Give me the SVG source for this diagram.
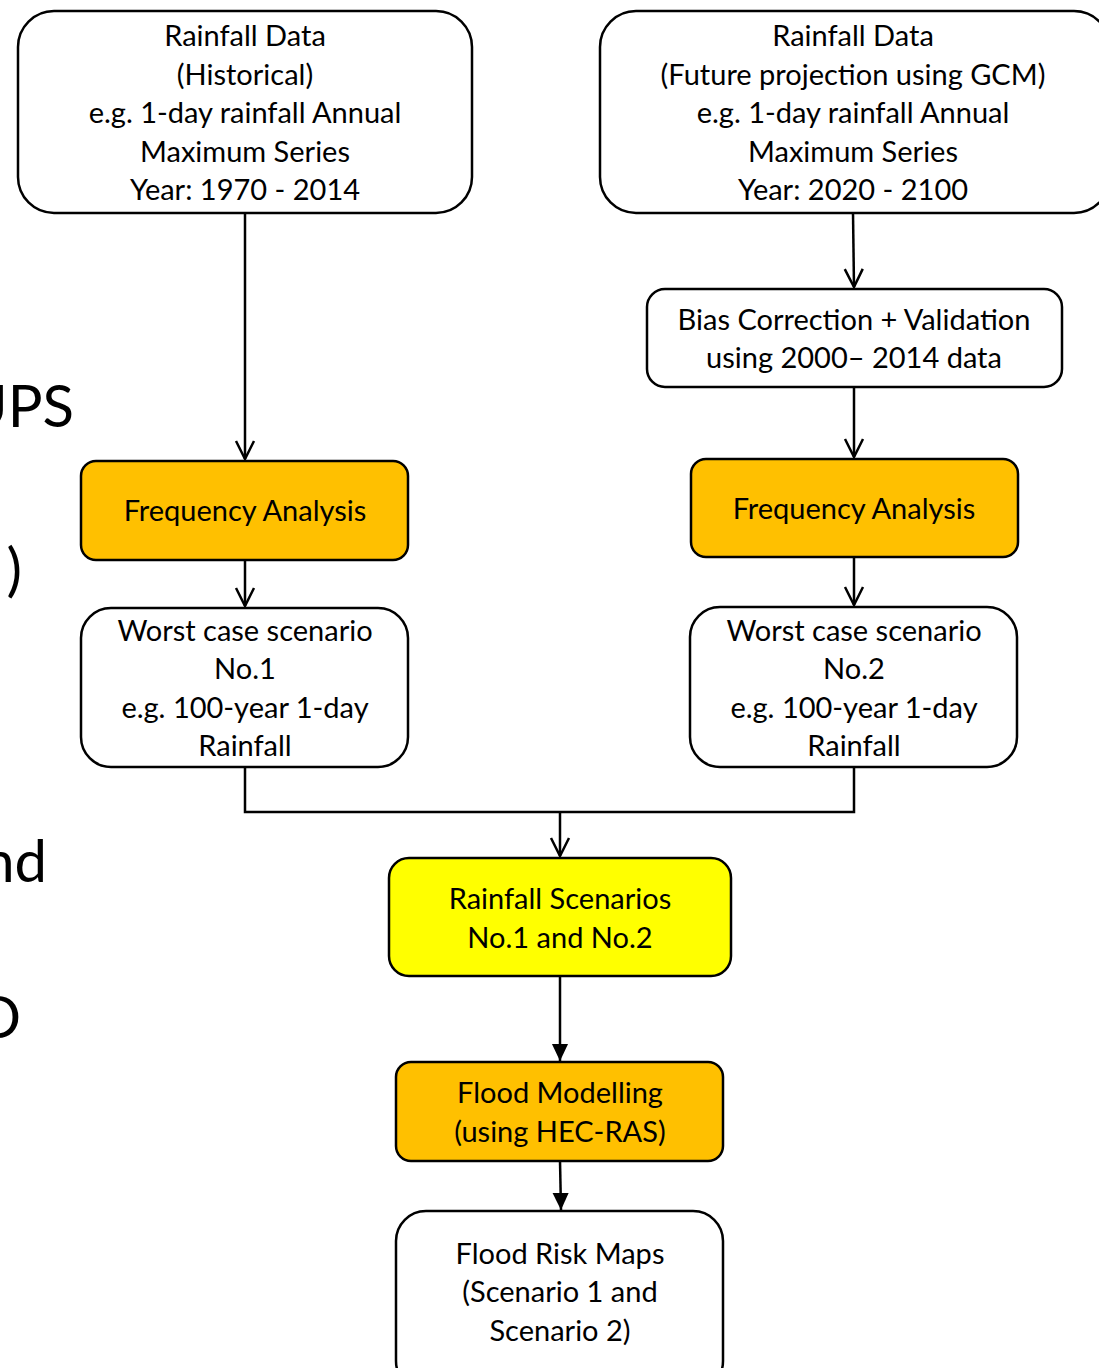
<svg xmlns="http://www.w3.org/2000/svg" width="1099" height="1368" viewBox="0 0 1099 1368">
<style>
.box{stroke:#000;stroke-width:2.5;}
.w{fill:#fff;}
.o{fill:#FFC000;}
.y{fill:#FFFF00;}
text{font-family:Lato,"Open Sans","Liberation Sans",sans-serif;font-size:29px;fill:#000;text-anchor:middle;}
.big{font-size:58px;text-anchor:end;}
.c{fill:none;stroke:#000;stroke-width:2.5;}
</style>
<defs>
<marker id="open" viewBox="0 0 22 22" refX="21" refY="11" markerWidth="22" markerHeight="22" markerUnits="userSpaceOnUse" orient="auto">
<path d="M3,2 L21,11 L3,20" fill="none" stroke="#000" stroke-width="2.5"/>
</marker>
<marker id="solid" viewBox="0 0 20 20" refX="19" refY="10" markerWidth="18" markerHeight="18" markerUnits="userSpaceOnUse" orient="auto">
<path d="M0,1 L19,10 L0,19 Z" fill="#000"/>
</marker>
</defs>
<rect width="1099" height="1368" fill="#fff"/>
<g id="fragments">
<text class="big" x="74" y="427">UPS</text>
<text class="big" x="22" y="590">)</text>
<text class="big" x="47" y="882">nd</text>
<text class="big" x="21" y="1038">D</text>
</g>
<g id="connectors">
<path class="c" d="M245,213 V459" marker-end="url(#open)"/>
<path class="c" d="M853,213 L854,287" marker-end="url(#open)"/>
<path class="c" d="M854,387 V457" marker-end="url(#open)"/>
<path class="c" d="M245,560 V606" marker-end="url(#open)"/>
<path class="c" d="M854,557 V605" marker-end="url(#open)"/>
<path class="c" d="M245,767 V812 H854 V767"/>
<path class="c" d="M560,812 V856" marker-end="url(#open)"/>
<path class="c" d="M560,976 V1061" marker-end="url(#solid)"/>
<path class="c" d="M560,1161 L561,1210" marker-end="url(#solid)"/>
</g>
<g id="n1">
<rect class="box w" x="18" y="11" width="454" height="202" rx="36"/>
<text x="245" y="46">Rainfall Data</text>
<text x="245" y="85">(Historical)</text>
<text x="245" y="123">e.g. 1-day rainfall Annual</text>
<text x="245" y="162">Maximum Series</text>
<text x="245" y="200">Year: 1970 - 2014</text>
</g>
<g id="n2">
<rect class="box w" x="600" y="11" width="510" height="202" rx="36"/>
<text x="853" y="46">Rainfall Data</text>
<text x="853" y="85">(Future projection using GCM)</text>
<text x="853" y="123">e.g. 1-day rainfall Annual</text>
<text x="853" y="162">Maximum Series</text>
<text x="853" y="200">Year: 2020 - 2100</text>
</g>
<g id="n3">
<rect class="box w" x="647" y="289" width="415" height="98" rx="18"/>
<text x="854" y="330">Bias Correction + Validation</text>
<text x="854" y="368">using 2000– 2014 data</text>
</g>
<g id="n4">
<rect class="box o" x="81" y="461" width="327" height="99" rx="15"/>
<text x="245" y="521">Frequency Analysis</text>
</g>
<g id="n5">
<rect class="box o" x="691" y="459" width="327" height="98" rx="15"/>
<text x="854" y="519">Frequency Analysis</text>
</g>
<g id="n6">
<rect class="box w" x="81" y="608" width="327" height="159" rx="30"/>
<text x="245" y="641">Worst case scenario</text>
<text x="245" y="679">No.1</text>
<text x="245" y="718">e.g. 100-year 1-day</text>
<text x="245" y="756">Rainfall</text>
</g>
<g id="n7">
<rect class="box w" x="690" y="607" width="327" height="160" rx="30"/>
<text x="854" y="641">Worst case scenario</text>
<text x="854" y="679">No.2</text>
<text x="854" y="718">e.g. 100-year 1-day</text>
<text x="854" y="756">Rainfall</text>
</g>
<g id="n8">
<rect class="box y" x="389" y="858" width="342" height="118" rx="20"/>
<text x="560" y="909">Rainfall Scenarios</text>
<text x="560" y="948">No.1 and No.2</text>
</g>
<g id="n9">
<rect class="box o" x="396" y="1062" width="327" height="99" rx="15"/>
<text x="560" y="1103">Flood Modelling</text>
<text x="560" y="1142">(using HEC-RAS)</text>
</g>
<g id="n10">
<rect class="box w" x="396" y="1211" width="327" height="180" rx="30"/>
<text x="560" y="1264">Flood Risk Maps</text>
<text x="560" y="1302">(Scenario 1 and</text>
<text x="560" y="1341">Scenario 2)</text>
</g>
</svg>
